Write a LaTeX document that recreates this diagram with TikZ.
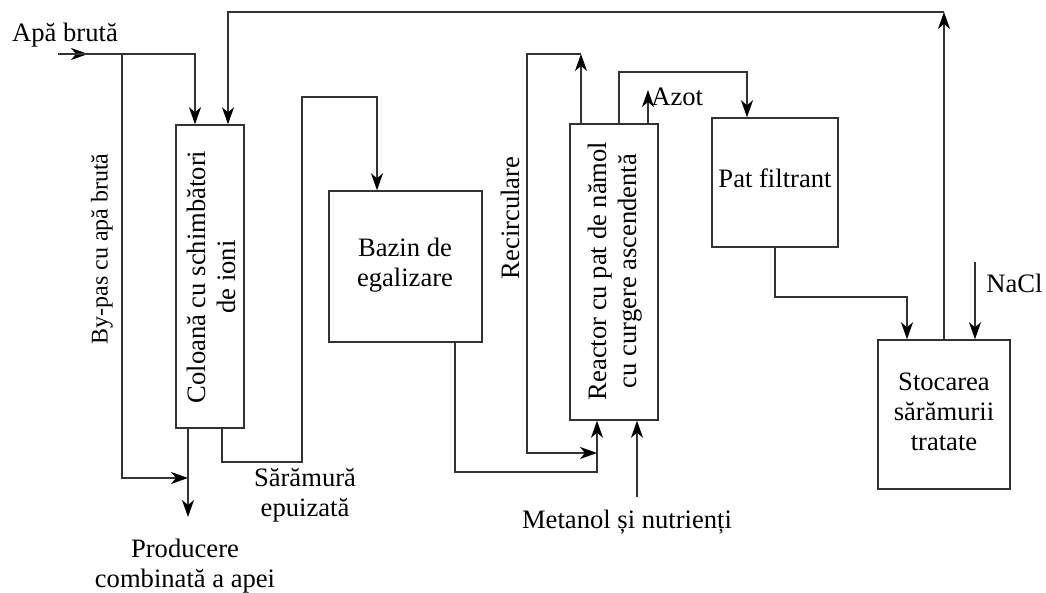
\documentclass[tikz,border=0pt]{standalone}
\usepackage{fontspec}
\setmainfont{Liberation Serif}
\usetikzlibrary{arrows.meta}
\begin{document}
\begin{tikzpicture}[x=0.5pt,y=-0.5pt,
  font=\fontsize{13.3}{15}\selectfont,
  ln/.style={line width=0.75pt,draw=black!80},
  arr/.style={ln,-{Stealth[length=8.5pt,width=6pt,inset=2.5pt,color=black]}},
  box/.style={draw=black!80,line width=0.75pt,inner sep=0pt},
  txt/.style={align=center,inner sep=0pt}]
\useasboundingbox (0,0) rectangle (1046,593);
% boxes
\node[box,minimum width=34pt,minimum height=151.5pt] (col) at (210,276.5) {};
\node[box,minimum width=76.5pt,minimum height=75.5pt] (baz) at (405.5,266.5) {};
\node[box,minimum width=44pt,minimum height=148pt] (rea) at (614,272) {};
\node[box,minimum width=63pt,minimum height=64.5pt] (pat) at (775,182.5) {};
\node[box,minimum width=66pt,minimum height=74.5pt] (stoc) at (944,414.5) {};
% box texts
\node[txt,rotate=90] (colt) at (211,277) {Coloană cu schimbători\\de ioni};
\node[txt] (bazt) at (405,265) {Bazin de\\egalizare};
\node[txt,rotate=90] (reat) at (615,271) {Reactor cu pat de nămol\\cu curgere ascendentă};
\node[txt] (patt) at (775,178) {Pat filtrant};
\node[txt] (stoct) at (944,412) {Stocarea\\sărămurii\\tratate};
% free labels
\node[anchor=base,inner sep=0pt] (apa) at (65,42) {Apă brută};
\node[txt,rotate=90,font=\fontsize{12}{14}\selectfont] (bypt) at (102,249) {By-pas cu apă brută};
\node[txt,rotate=90] (recit) at (510,218) {Recirculare};
\node[anchor=west,inner sep=0pt] (azot) at (651,97) {Azot};
\node[anchor=west,inner sep=0pt] (nacl) at (986,283) {NaCl};
\node[txt] (sar) at (305,495) {Sărămură\\epuizată};
\node[txt] (prod) at (185,566) {Producere\\combinată a apei};
\node[txt] (met) at (627,522) {Metanol și nutrienți};
% coordinates
\coordinate (in) at (58,54);
\coordinate (inm) at (88,54);
\coordinate (bp) at (122,54);
\coordinate (bpb) at (122,478);
\coordinate (bpe) at (188,478);
\coordinate (prodo) at (188,517);
\coordinate (s2) at (302,462);
\coordinate (s3) at (302,97);
\coordinate (r1) at (597,472);
\coordinate (rc0) at (581,54);
\coordinate (rc1) at (527,54);
\coordinate (rc2) at (527,453);
\coordinate (rc3) at (597,453);
\coordinate (m0) at (637,497);
\coordinate (az) at (648,90);
\coordinate (p1) at (619,72);
\coordinate (f1) at (907,297);
\coordinate (top) at (944,12);
\coordinate (na) at (975,262);
% connectors
\draw[arr] (in) -- (inm);
\draw[arr] (in) -| ([xshift=-7.5pt]col.north);
\draw[arr] (bp) -- (bpb) -- (bpe);
\draw[arr] ([xshift=-11pt]col.south) -- (prodo);
\draw[arr] ([xshift=6pt]col.south) |- (s2) -- (s3) -| ([xshift=-14.25pt]baz.north);
\draw[arr] ([xshift=24.75pt]baz.south) |- (r1) -- ([xshift=-8.5pt]rea.south);
\draw[arr] ([xshift=-16.5pt]rea.north) -- (rc0);
\draw[arr] (rc0) -- (rc1) -- (rc2) -- (rc3);
\draw[arr] (m0) -- ([xshift=11.5pt]rea.south);
\draw[arr] ([xshift=17pt]rea.north) -- (az);
\draw[arr] ([xshift=2.5pt]rea.north) |- (p1) -| ([xshift=-14pt]pat.north);
\draw[arr] (pat.south) |- (f1) -- ([xshift=-18.5pt]stoc.north);
\draw[arr] (stoc.north) -- (top);
\draw[arr] (top) -| ([xshift=9pt]col.north);
\draw[arr] (na) -- ([xshift=15.5pt]stoc.north);
\end{tikzpicture}
\end{document}
